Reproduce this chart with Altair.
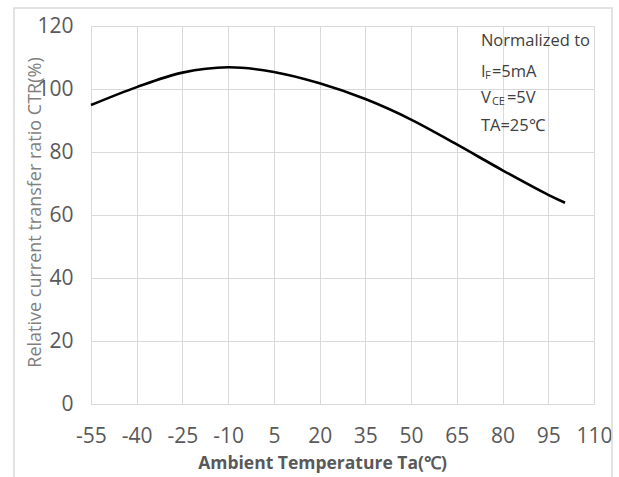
import altair as alt
import pandas as pd

temps = [-55, -40, -25, -10, 5, 20, 35, 50, 65, 80, 95, 100.5]
ctr = [94.9, 100.6, 105.2, 106.9, 105.4, 101.8, 96.8, 90.3, 82.4, 74.2, 66.4, 63.9]
x_ticks = [-55, -40, -25, -10, 5, 20, 35, 50, 65, 80, 95, 110]
y_ticks = [0, 20, 40, 60, 80, 100, 120]

df = pd.DataFrame({"t": temps, "ctr": ctr})

GRID = "#d9d9d9"
TXT = "#595959"
FONT = "Open Sans"

xs = alt.Scale(domain=[-55, 110], nice=False, zero=False)
ys = alt.Scale(domain=[0, 120], nice=False)

line = alt.Chart(df).mark_line(color="black", strokeWidth=2.6, interpolate="catmull-rom").encode(
    x=alt.X("t:Q", scale=xs,
            axis=alt.Axis(values=x_ticks, title="Ambient Temperature Ta(℃)", grid=True, gridColor=GRID,
                          domain=False, ticks=False, labelFontSize=21, labelColor=TXT, labelFont=FONT,
                          labelExpr="'' + datum.value", labelOverlap=False, labelPadding=21,
                          labelFlush=False,
                          titleFontSize=17.5, titleFont=FONT, titleFontWeight="bold",
                          titleColor=TXT, titleX=231, titleY=59, titleBaseline="middle")),
    y=alt.Y("ctr:Q", scale=ys,
            axis=alt.Axis(values=y_ticks, title="Relative current transfer ratio CTR(%)", grid=True,
                          gridColor=GRID, domain=False, ticks=False, labelFontSize=21, labelColor=TXT,
                          labelFont=FONT, labelPadding=18, labelOverlap=False, labelFlush=False,
                          titleFontSize=18, titleFont=FONT,
                          titleFontWeight="normal", titleColor="#7f7f7f", titleX=-56, titleY=186,
                          titleBaseline="middle", titleAngle=270)),
)

# annotation segments
ann_x = 72.9
ann = pd.DataFrame([
    {"x": ann_x, "y": 115.2, "dx": 0, "dy": 0, "txt": "Normalized to", "size": 16.5},
    {"x": ann_x, "y": 105.3, "dx": 0, "dy": 0, "txt": "I", "size": 16.5},
    {"x": ann_x, "y": 105.3, "dx": 4, "dy": 4, "txt": "F", "size": 11},
    {"x": ann_x, "y": 105.3, "dx": 11, "dy": 0, "txt": "=5mA", "size": 16.5},
    {"x": ann_x, "y": 97.1, "dx": 0, "dy": 0, "txt": "V", "size": 16.5},
    {"x": ann_x, "y": 97.1, "dx": 11, "dy": 4, "txt": "CE", "size": 11},
    {"x": ann_x, "y": 97.1, "dx": 26, "dy": 0, "txt": "=5V", "size": 16.5},
    {"x": ann_x, "y": 88.2, "dx": 0, "dy": 0, "txt": "TA=25℃", "size": 16.5},
])

texts = []
for i, r in ann.iterrows():
    sub = ann.loc[[i]]
    texts.append(
        alt.Chart(sub).mark_text(align="left", baseline="middle", font=FONT, fontSize=float(r["size"]),
                                 color="#404040", dx=int(r["dx"]), dy=int(r["dy"])).encode(
            x=alt.X("x:Q", scale=xs), y=alt.Y("y:Q", scale=ys), text="txt:N")
    )

frame = alt.Chart(pd.DataFrame({"a": [0]})).mark_rect(
    fill=None, stroke=GRID, strokeWidth=1.5, clip=False
).encode(x=alt.value(-77), x2=alt.value(521), y=alt.value(-18), y2=alt.value(470))

chart = alt.layer(frame, line, *texts).properties(
    width=503, height=378,
    autosize=alt.AutoSizeParams(type="none"),
    padding={"left": 91, "top": 26, "right": 25, "bottom": 73},
).configure_view(stroke=None).configure(background="white")

chart.save("out.html", embed_options={"renderer": "svg", "actions": False})
